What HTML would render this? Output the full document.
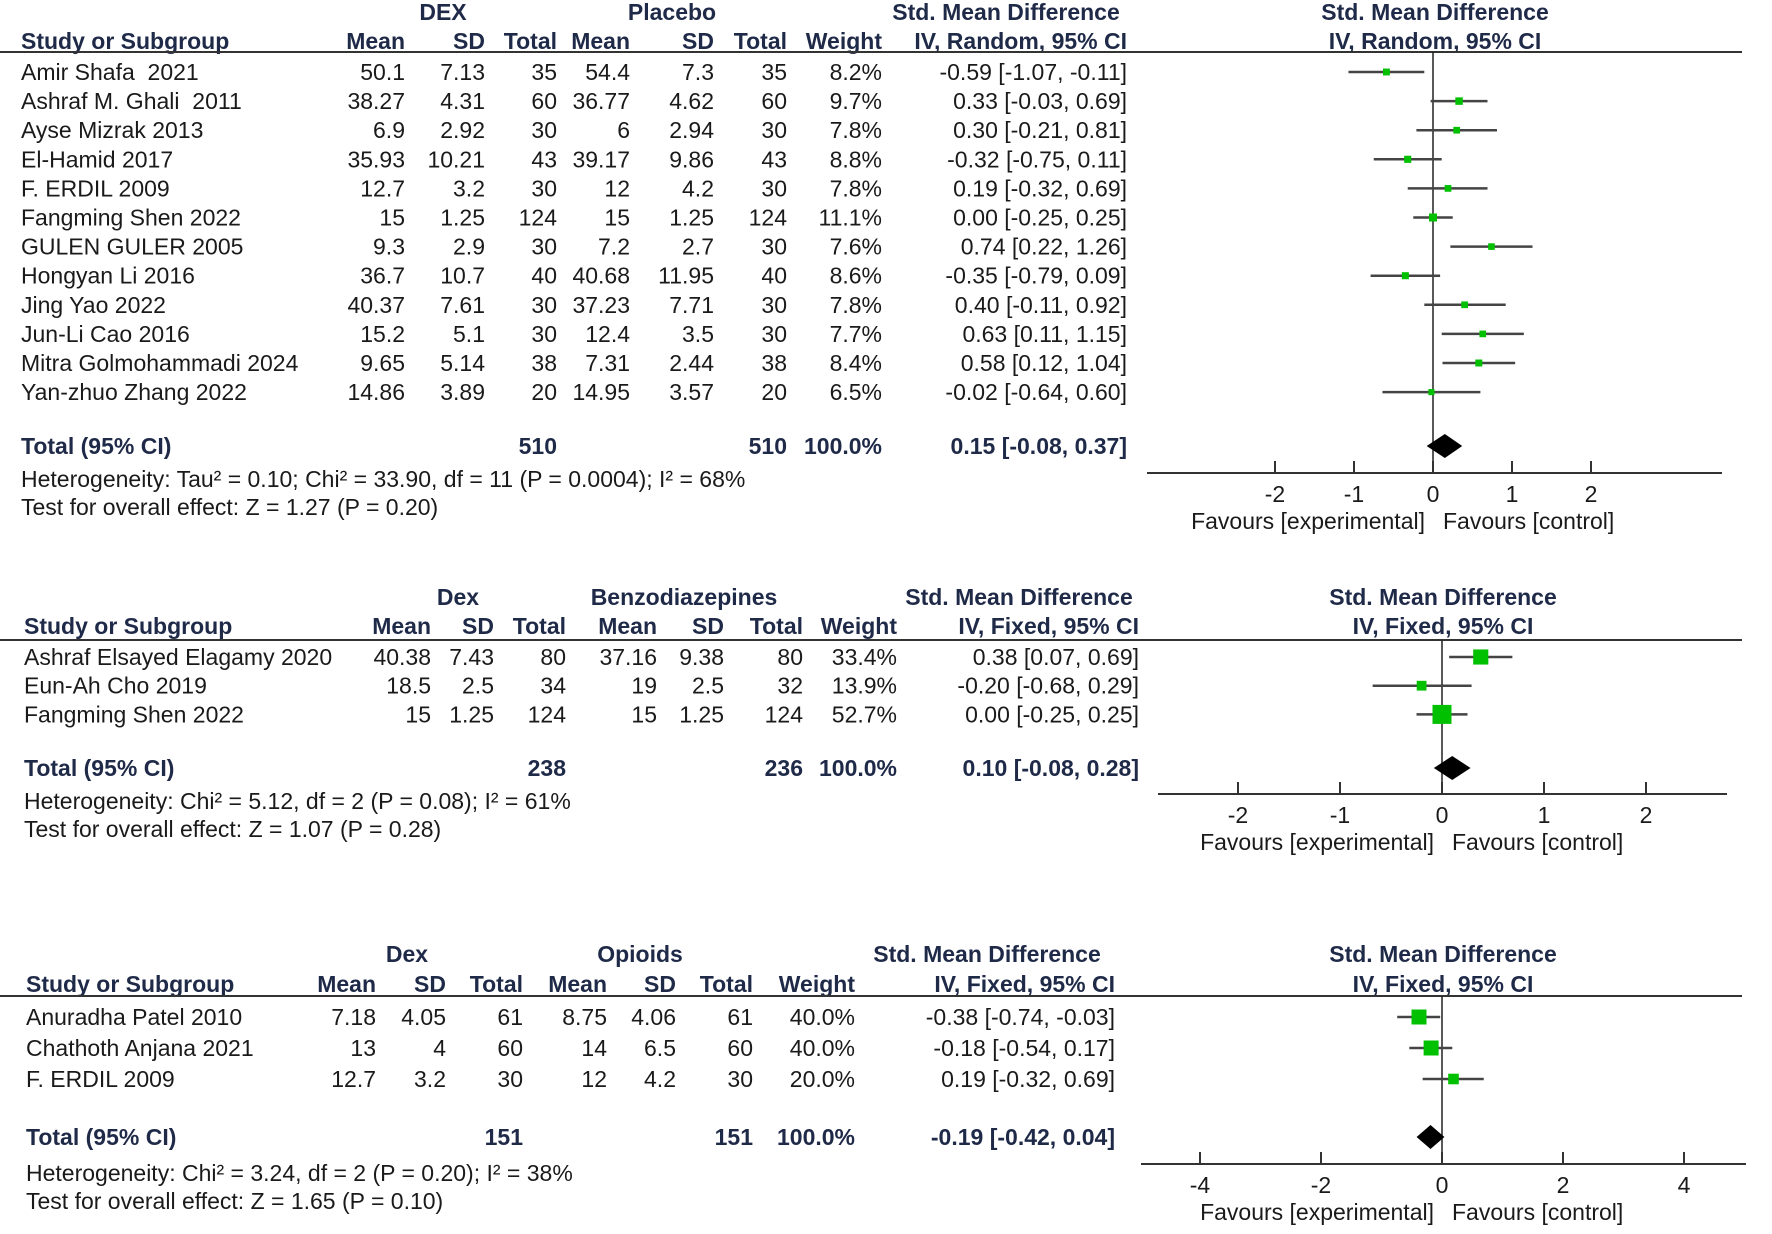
<!DOCTYPE html>
<html><head><meta charset="utf-8">
<style>
html,body{margin:0;padding:0;background:#fff;}
svg{display:block;font-family:"Liberation Sans",Arial,sans-serif;}
text{font-size:23px;fill:#1a1a1a;white-space:pre;}
.b{font-weight:bold;fill:#1f2a48;}
</style></head>
<body>
<svg id="chart" width="1772" height="1234" viewBox="0 0 1772 1234" xmlns="http://www.w3.org/2000/svg"></svg>
<script>
// ---------- Panel 1 data ----------
const p1Studies=["Amir Shafa  2021","Ashraf M. Ghali  2011","Ayse Mizrak 2013","El-Hamid 2017","F. ERDIL 2009","Fangming Shen 2022","GULEN GULER 2005","Hongyan Li 2016","Jing Yao 2022","Jun-Li Cao 2016","Mitra Golmohammadi 2024","Yan-zhuo Zhang 2022"];
const p1ExpMean=["50.1","38.27","6.9","35.93","12.7","15","9.3","36.7","40.37","15.2","9.65","14.86"];
const p1ExpSD=["7.13","4.31","2.92","10.21","3.2","1.25","2.9","10.7","7.61","5.1","5.14","3.89"];
const p1ExpN=["35","60","30","43","30","124","30","40","30","30","38","20"];
const p1CtlMean=["54.4","36.77","6","39.17","12","15","7.2","40.68","37.23","12.4","7.31","14.95"];
const p1CtlSD=["7.3","4.62","2.94","9.86","4.2","1.25","2.7","11.95","7.71","3.5","2.44","3.57"];
const p1CtlN=["35","60","30","43","30","124","30","40","30","30","38","20"];
const p1Weight=[8.2,9.7,7.8,8.8,7.8,11.1,7.6,8.6,7.8,7.7,8.4,6.5];
const p1Est=[-0.59,0.33,0.30,-0.32,0.19,0.00,0.74,-0.35,0.40,0.63,0.58,-0.02];
const p1Lo=[-1.07,-0.03,-0.21,-0.75,-0.32,-0.25,0.22,-0.79,-0.11,0.11,0.12,-0.64];
const p1Hi=[-0.11,0.69,0.81,0.11,0.69,0.25,1.26,0.09,0.92,1.15,1.04,0.60];
const p1Total=[0.15,-0.08,0.37];
const p1Ticks=[-2,-1,0,1,2];
// ---------- Panel 2 data ----------
const p2Studies=["Ashraf Elsayed Elagamy 2020","Eun-Ah Cho 2019","Fangming Shen 2022"];
const p2ExpMean=["40.38","18.5","15"];
const p2ExpSD=["7.43","2.5","1.25"];
const p2ExpN=["80","34","124"];
const p2CtlMean=["37.16","19","15"];
const p2CtlSD=["9.38","2.5","1.25"];
const p2CtlN=["80","32","124"];
const p2Weight=[33.4,13.9,52.7];
const p2Est=[0.38,-0.20,0.00];
const p2Lo=[0.07,-0.68,-0.25];
const p2Hi=[0.69,0.29,0.25];
const p2Total=[0.10,-0.08,0.28];
const p2Ticks=[-2,-1,0,1,2];
// ---------- Panel 3 data ----------
const p3Studies=["Anuradha Patel 2010","Chathoth Anjana 2021","F. ERDIL 2009"];
const p3ExpMean=["7.18","13","12.7"];
const p3ExpSD=["4.05","4","3.2"];
const p3ExpN=["61","60","30"];
const p3CtlMean=["8.75","14","12"];
const p3CtlSD=["4.06","6.5","4.2"];
const p3CtlN=["61","60","30"];
const p3Weight=[40.0,40.0,20.0];
const p3Est=[-0.38,-0.18,0.19];
const p3Lo=[-0.74,-0.54,-0.32];
const p3Hi=[-0.03,0.17,0.69];
const p3Total=[-0.19,-0.42,0.04];
const p3Ticks=[-4,-2,0,2,4];

const svg=document.getElementById('chart');
const NS='http://www.w3.org/2000/svg';
function mk(tag,attrs,parent){const e=document.createElementNS(NS,tag);for(const k in attrs)e.setAttribute(k,attrs[k]);(parent||svg).appendChild(e);return e;}
function txt(s,x,y,anchor,cls,parent){const t=mk('text',{x:x,y:y,'text-anchor':anchor||'start'},parent);if(cls)t.setAttribute('class',cls);t.textContent=s;return t;}
function f2(v){return v.toFixed(2);}
function ciStr(e,l,h){return f2(e)+" ["+f2(l)+", "+f2(h)+"]";}

function panel(cfg){
  const g=mk('g',{});
  
  
  const c=cfg.cols;
  txt(cfg.expLabel,cfg.expC,cfg.h1,'middle','b',g);
  txt(cfg.ctlLabel,cfg.ctlC,cfg.h1,'middle','b',g);
  txt("Std. Mean Difference",cfg.smdC,cfg.h1,'middle','b',g);
  txt("Std. Mean Difference",cfg.plotC,cfg.h1,'middle','b',g);
  txt("Study or Subgroup",c.study,cfg.h2,'start','b',g);
  const hdr=["Mean","SD","Total","Mean","SD","Total","Weight"];
  const hx=[c.m1,c.s1,c.n1,c.m2,c.s2,c.n2,c.w];
  hdr.forEach((h,i)=>txt(h,hx[i],cfg.h2,'end','b',g));
  txt(cfg.method,c.ci,cfg.h2,'end','b',g);
  txt(cfg.method,cfg.plotC,cfg.h2,'middle','b',g);
  mk('line',{x1:0,x2:1742,y1:cfg.line,y2:cfg.line,stroke:'#333','stroke-width':2},g);
  const X=v=>cfg.zero+v*cfg.unit;
  mk('line',{x1:X(0),x2:X(0),y1:cfg.line,y2:cfg.axisY,stroke:'#222','stroke-width':1.5},g);
  const ax=mk('line',{x1:cfg.axL,x2:cfg.axR,y1:cfg.axisY,y2:cfg.axisY,stroke:'#333','stroke-width':2},g);
  
  
  cfg.ticks.forEach(t=>{
    mk('line',{x1:X(t),x2:X(t),y1:cfg.axisY-12,y2:cfg.axisY,stroke:'#333','stroke-width':2},g);
    const tl=txt(String(t),X(t),cfg.axisY+29,'middle',null,g);
    
    
  });
  txt("Favours [experimental]",X(0)-8,cfg.axisY+56,'end',null,g);
  txt("Favours [control]",X(0)+10,cfg.axisY+56,'start',null,g);
  const wmax=Math.max(...cfg.weight);
  cfg.studies.forEach((s,i)=>{
    const y=cfg.row0+i*cfg.rowH;
    const row=mk('g',{},g);
    
    
    txt(s,c.study,y+8,'start',null,row);
    const vals=[cfg.em[i],cfg.es[i],cfg.en[i],cfg.cm[i],cfg.cs[i],cfg.cn[i],cfg.weight[i].toFixed(1)+"%"];
    vals.forEach((v,j)=>txt(v,hx[j],y+8,'end',null,row));
    txt(ciStr(cfg.est[i],cfg.lo[i],cfg.hi[i]),c.ci,y+8,'end',null,row);
    const ci=mk('line',{x1:X(cfg.lo[i]),x2:X(cfg.hi[i]),y1:y,y2:y,stroke:'#444','stroke-width':2.5},row);
    
    
    const sz=cfg.maxSq*Math.sqrt(cfg.weight[i]/wmax);
    const sq=mk('rect',{x:X(cfg.est[i])-sz/2,y:y-sz/2,width:sz,height:sz,fill:'#00c000'},row);
    
    
  });
  const ty=cfg.totY;
  txt("Total (95% CI)",c.study,ty+8,'start','b',g);
  txt(cfg.totN1,c.n1,ty+8,'end','b',g);
  txt(cfg.totN2,c.n2,ty+8,'end','b',g);
  txt("100.0%",c.w,ty+8,'end','b',g);
  txt(ciStr(cfg.total[0],cfg.total[1],cfg.total[2]),c.ci,ty+8,'end','b',g);
  const d=mk('polygon',{points:[X(cfg.total[1])+","+ty,X(cfg.total[0])+","+(ty-12),X(cfg.total[2])+","+ty,X(cfg.total[0])+","+(ty+12)].join(' '),fill:'#000'},g);
  
  
  txt(cfg.het,c.study,cfg.hetY,'start',null,g);
  txt(cfg.test,c.study,cfg.hetY+28,'start',null,g);
}

panel({name:'panel-dex-vs-placebo',expLabel:'DEX',ctlLabel:'Placebo',expC:443,ctlC:672,smdC:1006,plotC:1435,h1:20,h2:49,line:52,
  cols:{study:21,m1:405,s1:485,n1:557,m2:630,s2:714,n2:787,w:882,ci:1127},method:'IV, Random, 95% CI',
  zero:1433,unit:79,axL:1147,axR:1722,axisY:473,ticks:p1Ticks,row0:72,rowH:29.1,maxSq:8,
  studies:p1Studies,em:p1ExpMean,es:p1ExpSD,en:p1ExpN,cm:p1CtlMean,cs:p1CtlSD,cn:p1CtlN,weight:p1Weight,est:p1Est,lo:p1Lo,hi:p1Hi,
  total:p1Total,totY:446,totN1:'510',totN2:'510',
  het:'Heterogeneity: Tau² = 0.10; Chi² = 33.90, df = 11 (P = 0.0004); I² = 68%',test:'Test for overall effect: Z = 1.27 (P = 0.20)',hetY:487});

panel({name:'panel-dex-vs-benzodiazepines',expLabel:'Dex',ctlLabel:'Benzodiazepines',expC:458,ctlC:684,smdC:1019,plotC:1443,h1:605,h2:634,line:640,
  cols:{study:24,m1:431,s1:494,n1:566,m2:657,s2:724,n2:803,w:897,ci:1139},method:'IV, Fixed, 95% CI',
  zero:1442,unit:102,axL:1158,axR:1727,axisY:794,ticks:p2Ticks,row0:657,rowH:28.7,maxSq:19,
  studies:p2Studies,em:p2ExpMean,es:p2ExpSD,en:p2ExpN,cm:p2CtlMean,cs:p2CtlSD,cn:p2CtlN,weight:p2Weight,est:p2Est,lo:p2Lo,hi:p2Hi,
  total:p2Total,totY:768,totN1:'238',totN2:'236',
  het:'Heterogeneity: Chi² = 5.12, df = 2 (P = 0.08); I² = 61%',test:'Test for overall effect: Z = 1.07 (P = 0.28)',hetY:809});

panel({name:'panel-dex-vs-opioids',expLabel:'Dex',ctlLabel:'Opioids',expC:407,ctlC:640,smdC:987,plotC:1443,h1:962,h2:992,line:996,
  cols:{study:26,m1:376,s1:446,n1:523,m2:607,s2:676,n2:753,w:855,ci:1115},method:'IV, Fixed, 95% CI',
  zero:1442,unit:60.5,axL:1141,axR:1746,axisY:1164,ticks:p3Ticks,row0:1017,rowH:31,maxSq:15,
  studies:p3Studies,em:p3ExpMean,es:p3ExpSD,en:p3ExpN,cm:p3CtlMean,cs:p3CtlSD,cn:p3CtlN,weight:p3Weight,est:p3Est,lo:p3Lo,hi:p3Hi,
  total:p3Total,totY:1137,totN1:'151',totN2:'151',
  het:'Heterogeneity: Chi² = 3.24, df = 2 (P = 0.20); I² = 38%',test:'Test for overall effect: Z = 1.65 (P = 0.10)',hetY:1181});
</script>
</body></html>
